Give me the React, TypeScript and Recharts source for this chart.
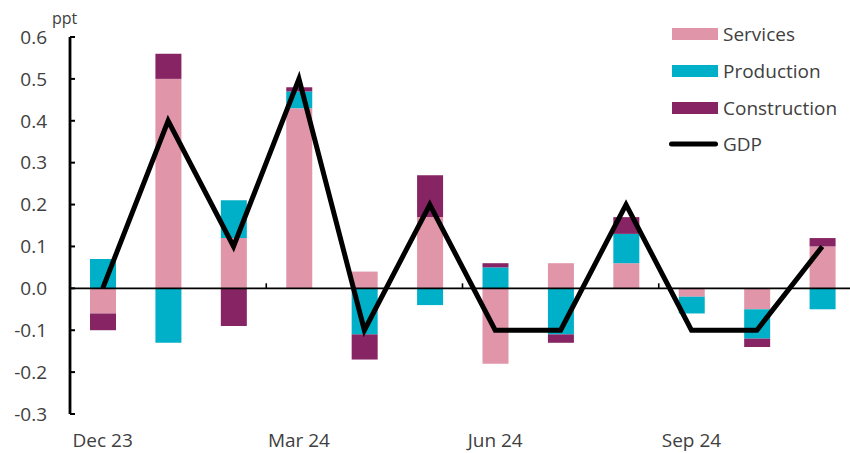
import React from "react";
import {
  ComposedChart,
  Bar,
  Line,
  XAxis,
  YAxis,
  ReferenceLine,
} from "recharts";

const months = [
  "Dec 23", "Jan 24", "Feb 24", "Mar 24", "Apr 24", "May 24",
  "Jun 24", "Jul 24", "Aug 24", "Sep 24", "Oct 24", "Nov 24",
];
const services = [-0.06, 0.5, 0.12, 0.43, 0.04, 0.17, -0.18, 0.06, 0.06, -0.02, -0.05, 0.1];
const production = [0.07, -0.13, 0.09, 0.04, -0.11, -0.04, 0.05, -0.11, 0.07, -0.04, -0.07, -0.05];
const construction = [-0.04, 0.06, -0.09, 0.01, -0.06, 0.1, 0.01, -0.02, 0.04, 0, -0.02, 0.02];
const gdp = [0.0, 0.4, 0.1, 0.5, -0.1, 0.2, -0.1, -0.1, 0.2, -0.1, -0.1, 0.1];
const yTicks = [-0.3, -0.2, -0.1, 0, 0.1, 0.2, 0.3, 0.4, 0.5, 0.6];

const COLORS = {
  services: "#E195A8",
  production: "#00B0C8",
  construction: "#862464",
  gdp: "#000000",
};
const FONT = "'Open Sans', sans-serif";
const TEXT = "#404040";

const data = months.map((m, i) => ({
  month: m,
  services: services[i],
  production: production[i],
  construction: construction[i],
  gdp: gdp[i],
}));

const legendItems = [
  { name: "Services", color: COLORS.services, type: "bar" },
  { name: "Production", color: COLORS.production, type: "bar" },
  { name: "Construction", color: COLORS.construction, type: "bar" },
  { name: "GDP", color: COLORS.gdp, type: "line" },
];

const ChartLegend = () => (
  <div
    style={{
      position: "absolute",
      left: 669,
      top: 16,
      fontFamily: FONT,
      fontSize: 19,
      color: TEXT,
    }}
  >
    {legendItems.map((it) => (
      <div key={it.name} style={{ display: "flex", alignItems: "center", height: 36.7 }}>
        {it.type === "bar" ? (
          <div style={{ width: 46, height: 12, marginLeft: 3, background: it.color }} />
        ) : (
          <svg width={49} height={12}>
            <line x1={2.5} y1={6} x2={46.5} y2={6} stroke={it.color} strokeWidth={5} strokeLinecap="round" />
          </svg>
        )}
        <span style={{ marginLeft: 5 }}>{it.name}</span>
      </div>
    ))}
  </div>
);

// zero line with small tick marks every three months
const ZeroLine = (props: any) => {
  const { x1, x2, y1 } = props;
  const step = (x2 - x1) / months.length;
  return (
    <g>
      <line x1={x1} y1={y1} x2={x2} y2={y1} stroke="#000" strokeWidth={1.6} />
      {[3, 6, 9].map((k) => (
        <line
          key={k}
          x1={x1 + step * k}
          x2={x1 + step * k}
          y1={y1}
          y2={y1 - 5}
          stroke="#000"
          strokeWidth={1.6}
        />
      ))}
    </g>
  );
};

export default function App() {
  return (
    <div style={{ position: "absolute", left: 0, top: 0, width: 850, height: 453, overflow: "hidden" }}>
      <ComposedChart
        width={860}
        height={453}
        data={data}
        stackOffset="sign"
        margin={{ top: 37, right: 5, left: 0, bottom: 9 }}
      >
        <XAxis
          dataKey="month"
          interval={2}
          axisLine={false}
          tickLine={false}
          tickSize={8}
          tickMargin={12}
          height={30}
          tick={{ fill: TEXT, fontFamily: FONT, fontSize: 19 }}
        />
        <YAxis
          width={70}
          domain={[-0.3, 0.6]}
          ticks={yTicks}
          interval={0}
          tickFormatter={(v: number) => v.toFixed(1)}
          axisLine={{ stroke: "#000", strokeWidth: 2.8 }}
          tickLine={{ stroke: "#000", strokeWidth: 2 }}
          tickSize={-5}
          tickMargin={28}
          tick={{ fill: TEXT, fontFamily: FONT, fontSize: 19 }}
        />
        <Bar dataKey="services" stackId="a" fill={COLORS.services} barSize={26} isAnimationActive={false} />
        <Bar dataKey="production" stackId="a" fill={COLORS.production} barSize={26} isAnimationActive={false} />
        <Bar dataKey="construction" stackId="a" fill={COLORS.construction} barSize={26} isAnimationActive={false} />
        <ReferenceLine y={0} shape={ZeroLine} />
        <Line
          type="linear"
          dataKey="gdp"
          stroke={COLORS.gdp}
          strokeWidth={5}
          dot={false}
          activeDot={false}
          isAnimationActive={false}
        />
      </ComposedChart>
      <div
        style={{
          position: "absolute",
          left: 52,
          top: 7,
          fontFamily: FONT,
          fontSize: 16,
          color: TEXT,
        }}
      >
        ppt
      </div>
      <ChartLegend />
    </div>
  );
}
